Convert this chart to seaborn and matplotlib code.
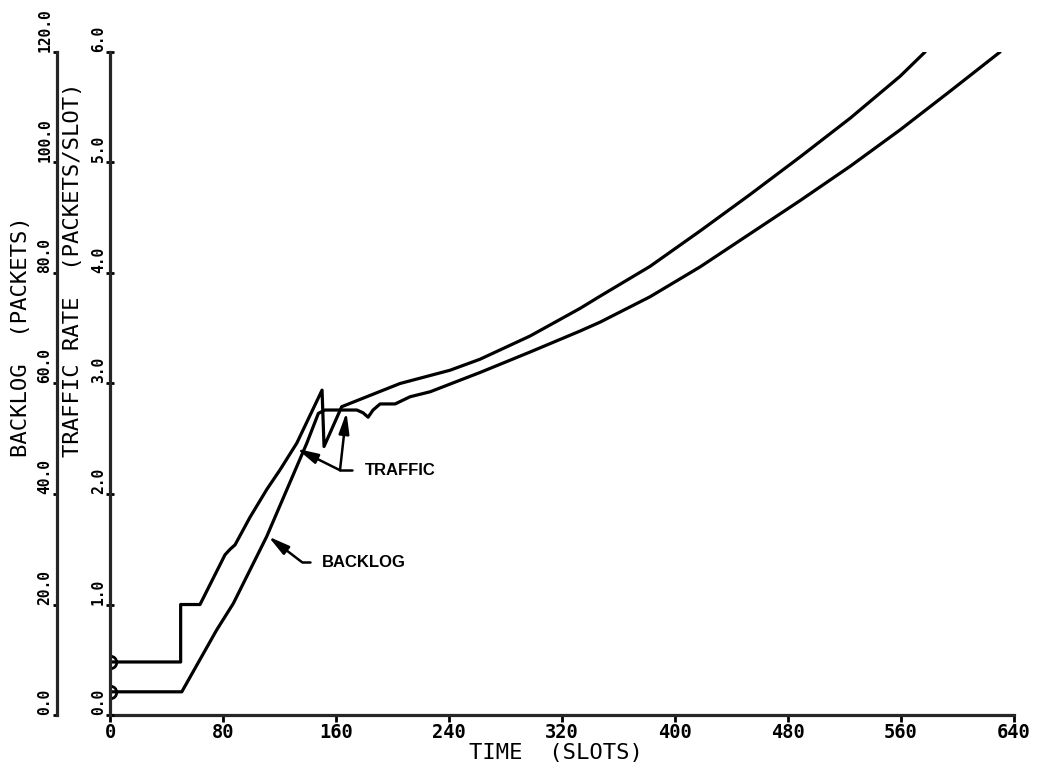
import matplotlib
matplotlib.use("Agg")
import matplotlib.pyplot as plt
import seaborn as sns

# Traffic rate (packets/slot) over time (slots)
time_traffic = [0, 50, 50, 63.7, 81.4, 85.0, 88.5, 99.1, 110.9, 120.4, 132.2,
                150.1, 151.5, 164.0, 205.3, 240.7, 262.0, 297.4, 332.8, 346.9,
                382.3, 417.7, 453.1, 488.5, 523.9, 559.3, 577.0]
traffic_rate = [0.48, 0.48, 1.0, 1.0, 1.45, 1.50, 1.54, 1.79, 2.04, 2.22, 2.46,
                2.94, 2.43, 2.79, 3.00, 3.12, 3.22, 3.43, 3.68, 3.79,
                4.06, 4.38, 4.71, 5.05, 5.40, 5.78, 6.0]

# Backlog (packets) over time (slots)
time_backlog = [0, 50.8, 75.5, 87.3, 110.9, 139.3, 147.5, 152.2, 174.7, 179.1,
                182.7, 186.2, 191.2, 201.8, 212.4, 226.6, 262.0, 297.4, 332.8,
                346.9, 382.3, 417.7, 453.1, 488.5, 523.9, 559.3, 594.7, 630.1]
backlog_packets = [4.2, 4.2, 15.4, 20.2, 32.3, 49.2, 54.6, 55.2, 55.2, 54.7,
                   53.9, 55.2, 56.3, 56.3, 57.6, 58.5, 62.0, 65.7, 69.5,
                   71.1, 75.7, 81.1, 87.1, 93.1, 99.3, 105.9, 112.9, 120.0]

time_ticks = [0, 80, 160, 240, 320, 400, 480, 560, 640]
time_tick_labels = ["0", "80", "160", "240", "320", "400", "480", "560", "640"]
backlog_ticks = [0, 20, 40, 60, 80, 100, 120]
backlog_tick_labels = ["0.0", "20.0", "40.0", "60.0", "80.0", "100.0", "120.0"]
rate_ticks = [0, 1, 2, 3, 4, 5, 6]
rate_tick_labels = ["0.0", "1.0", "2.0", "3.0", "4.0", "5.0", "6.0"]

sns.set_style("ticks")
plt.rcParams["font.family"] = ["DejaVu Sans Mono", "DejaVu Sans"]

INK = "black"
LW = 2.3
DPI = 100

fig = plt.figure(figsize=(10.39, 7.70), dpi=DPI)
ax = fig.add_axes([0.1059, 0.0714, 0.8701, 0.8611])
ax2 = ax.twinx()

line_style = dict(color=INK, lw=LW, sort=False, estimator=None,
                  marker="o", markevery=[0], ms=9, mfc="none", mec=INK, mew=2)
sns.lineplot(x=time_backlog, y=backlog_packets, ax=ax, **line_style)
sns.lineplot(x=time_traffic, y=traffic_rate, ax=ax2, **line_style)

ax.set_xlim(0, 640)
ax.set_ylim(0, 120)
ax2.set_ylim(0, 6)

# outer backlog axis, inner traffic-rate axis, both on the left
for name in ("top", "right"):
    ax.spines[name].set_visible(False)
ax.spines["left"].set_position(("outward", 53 * 72 / DPI))
ax.spines["left"].set_linewidth(LW)
ax.spines["bottom"].set_linewidth(LW)
for name in ("top", "right", "bottom"):
    ax2.spines[name].set_visible(False)
ax2.spines["left"].set_visible(True)
ax2.spines["left"].set_linewidth(LW)
ax2.yaxis.tick_left()
ax2.yaxis.set_label_position("left")

ax.set_xticks(time_ticks, time_tick_labels, fontsize=13.5, fontweight="bold")
ax.set_yticks(backlog_ticks, backlog_tick_labels, rotation=90,
              va="bottom", ha="right", fontsize=10.5, fontweight="bold")
ax2.set_yticks(rate_ticks, rate_tick_labels, rotation=90,
               va="bottom", ha="right", fontsize=10.5, fontweight="bold")
ax.tick_params(axis="x", direction="out", length=5, width=2, pad=0.5, colors=INK)
ax.tick_params(axis="y", direction="out", length=3, width=2, pad=0.5, colors=INK)
ax2.tick_params(axis="y", direction="inout", length=6, width=2, pad=0, colors=INK)

ax.set_xlabel("TIME  (SLOTS)", fontsize=16, color=INK)
ax.xaxis.set_label_coords(0.493, -0.042)
ax.set_ylabel("BACKLOG  (PACKETS)", fontsize=16, color=INK)
ax.yaxis.set_label_coords(-0.087, 0.570)
ax2.set_ylabel("TRAFFIC RATE  (PACKETS/SLOT)", fontsize=16, color=INK)
ax2.yaxis.set_label_coords(-0.030, 0.671)

# curve callouts
tag_font = dict(family="Liberation Sans", fontweight="bold", fontsize=12,
                color=INK, va="center", ha="left")
arrow = dict(arrowstyle="-|>,head_length=0.9,head_width=0.22", color=INK,
             lw=1.8, shrinkA=0, shrinkB=0, mutation_scale=14)

ax2.text(180.5, 2.215, "TRAFFIC", **tag_font)
ax2.plot([171.1, 162.8], [2.215, 2.215], color=INK, lw=1.8)
ax2.annotate("", xy=(132.2, 2.41), xytext=(162.8, 2.215), arrowprops=arrow)
ax2.annotate("", xy=(167.4, 2.74), xytext=(162.8, 2.215), arrowprops=arrow)

ax.text(150.1, 27.6, "BACKLOG", **tag_font)
ax.plot([141.6, 135.7], [27.7, 27.7], color=INK, lw=1.8)
ax.annotate("", xy=(112.1, 32.3), xytext=(135.7, 27.7), arrowprops=arrow)

fig.savefig("out.png", dpi=DPI, facecolor="white")
